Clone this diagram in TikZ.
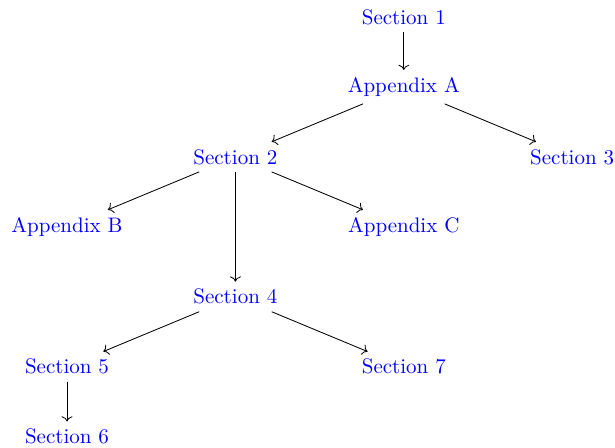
\documentclass[tikz,border=0pt]{standalone}
\usepackage{tikz}
\usetikzlibrary{arrows.meta, positioning}

\begin{document}
\begin{tikzpicture}[x=80.2pt, y=-33.3pt, every node/.style={text=blue}]

    \useasboundingbox (-0.398,-0.243) rectangle (3.254,6.150);

    \node (S1) at (2,0) {Section 1};
    \node (AA) at (2,1) {Appendix A};
    \node (S2) at (1,2) {Section 2};
    \node (S3) at (3,2) {Section 3};
    \node (AB) at (0,3) {Appendix B};
    \node (AC) at (2,3) {Appendix C};
    \node (S4) at (1,4) {Section 4};
    \node (S5) at (0,5) {Section 5};
    \node (S7) at (2,5) {Section 7};
    \node (S6) at (0,6) {Section 6};

    \draw[->] (S1) -- (AA);
    \draw[->] (AA) -- (S2);
    \draw[->] (AA) -- (S3);
    \draw[->] (S2) -- (AB);
    \draw[->] (S2) -- (AC);
    \draw[->] (S2) -- (S4);
    \draw[->] (S4) -- (S5);
    \draw[->] (S4) -- (S7);
    \draw[->] (S5) -- (S6);

\end{tikzpicture}
\end{document}
